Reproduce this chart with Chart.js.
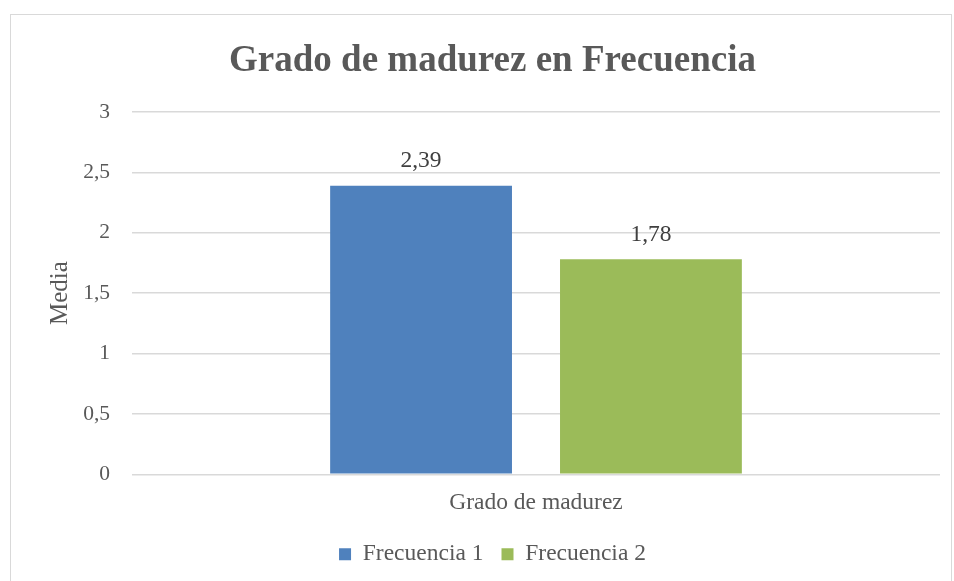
<!DOCTYPE html>
<html>
<head>
<meta charset="utf-8">
<script src="https://cdn.jsdelivr.net/npm/chart.js@4"></script>
<style>
  html, body { margin: 0; padding: 0; background: #fff; width: 954px; height: 581px; overflow: hidden; }
  #frame { position: absolute; left: 10px; top: 14px; width: 942px; height: 580px; border: 1px solid #d9d9d9; box-sizing: border-box; }
  #wrap { position: absolute; left: 11px; top: 15px; width: 940px; height: 566px; }
</style>
</head>
<body>
<div id="frame"></div>
<div id="wrap"><canvas id="c"></canvas></div>
<script>
const categories = ["Grado de madurez"];
const seriesNames = ["Frecuencia 1", "Frecuencia 2"];
const frecuencia1 = [2.39];
const frecuencia2 = [1.78];
const seriesColors = ["#4F81BD", "#9BBB59"];

const fmt = v => String(v).replace('.', ',');
const FONT = "'Liberation Serif', 'Times New Roman', serif";
const TEXT = "#595959";

const dataLabels = {
  id: 'dataLabels',
  afterDatasetsDraw(chart) {
    const ctx = chart.ctx;
    ctx.save();
    ctx.font = "23.5px " + FONT;
    ctx.fillStyle = "#404040";
    ctx.textAlign = 'center';
    ctx.textBaseline = 'middle';
    chart.data.datasets.forEach((ds, i) => {
      chart.getDatasetMeta(i).data.forEach((el, j) => {
        ctx.fillText(fmt(ds.data[j]), el.x, el.y - 25);
      });
    });
    ctx.restore();
  }
};

new Chart(document.getElementById('c'), {
  type: 'bar',
  data: {
    labels: categories,
    datasets: [
      { label: seriesNames[0], data: frecuencia1, backgroundColor: seriesColors[0] },
      { label: seriesNames[1], data: frecuencia2, backgroundColor: seriesColors[1] }
    ]
  },
  options: {
    responsive: true,
    maintainAspectRatio: false,
    animation: false,
    categoryPercentage: 0.569,
    barPercentage: 0.791,
    layout: { padding: { left: 34, right: 11, top: 0, bottom: 5 } },
    plugins: {
      title: {
        display: true,
        text: "Grado de madurez en Frecuencia",
        color: TEXT,
        font: { family: FONT, size: 37, weight: 'bold' },
        padding: { top: 24, bottom: 28.6 }
      },
      legend: {
        position: 'bottom',
        labels: {
          color: TEXT,
          font: { family: FONT, size: 23.5 },
          boxWidth: 12,
          boxHeight: 12,
          padding: 18
        }
      },
      tooltip: { enabled: false }
    },
    scales: {
      x: {
        grid: { display: false, drawTicks: false },
        border: { display: false },
        ticks: { display: false },
        title: {
          display: true,
          text: categories[0],
          color: TEXT,
          font: { family: FONT, size: 23.5 },
          padding: { top: 14, bottom: 8 }
        }
      },
      y: {
        min: 0,
        max: 3,
        afterFit: s => { s.width = 87; },
        ticks: {
          stepSize: 0.5,
          color: TEXT,
          font: { family: FONT, size: 21.5 },
          padding: 22,
          callback: v => fmt(v)
        },
        grid: { color: "#d9d9d9", lineWidth: 1.5, drawTicks: false },
        border: { display: false },
        title: {
          display: true,
          text: "Media",
          color: TEXT,
          font: { family: FONT, size: 25 },
          padding: { top: 0, bottom: 18 }
        }
      }
    }
  },
  plugins: [dataLabels]
});
</script>
</body>
</html>
